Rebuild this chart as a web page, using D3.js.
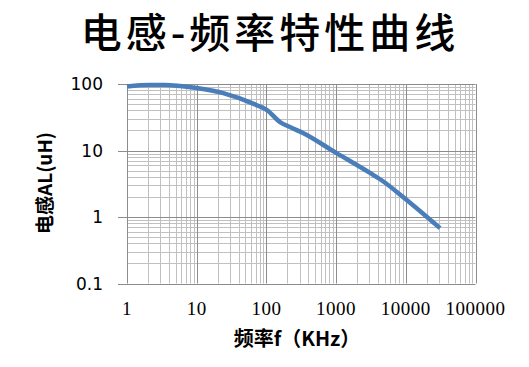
<!DOCTYPE html>
<meta charset="utf-8">
<style>
  body { margin: 0; background: #fff; }
  .title { font-family: "Noto Sans CJK SC", sans-serif; font-weight: 500; font-size: 41px; letter-spacing: 4px; fill: #000; }
  .axisTitle { font-family: "Noto Sans CJK SC", sans-serif; font-weight: bold; font-size: 20px; fill: #000; }
  .xlab { font-family: "Liberation Serif", serif; font-size: 19px; letter-spacing: 0.5px; fill: #000; }
  .ylab { font-family: "DejaVu Sans", sans-serif; font-size: 17px; fill: #000; }
</style>

<svg class="chart" width="529" height="367"></svg>

<script src="https://d3js.org/d3.v7.min.js"></script>

<script>

  // frequency (KHz) and inductance (uH)
  var freq = [1, 2.1, 3.5, 5.8, 10, 24, 73, 102, 157, 218, 335, 1000, 3060, 4710, 9120, 31000];
  var induct = [92, 96.5, 96.5, 93, 87, 73, 48, 40.6, 26.8, 22.5, 18.3, 9.2, 4.6, 3.45, 2.0, 0.68];

  var xTickLabels = ['1', '10', '100', '1000', '10000', '100000'];
  var yTickLabels = ['0.1', '1', '10', '100'];

  var svg = d3.select(".chart");

  var x = d3.scaleLog().domain([1, 1e5]).range([127, 475.5]);
  var y = d3.scaleLog().domain([0.1, 100]).range([283.5, 84]);

  function isMajor(v) { return Math.abs(Math.log10(v) - Math.round(Math.log10(v))) < 1e-9; }
  function px(v) { return Math.round(v) + 0.5; }

  var xt = x.ticks(), yt = y.ticks();

  var grid = svg.append("g");
  // minor grid
  grid.selectAll(".vx").data(xt.filter(function (d) { return !isMajor(d); }))
    .enter().append("line")
      .attr("x1", function (d) { return px(x(d)); }).attr("x2", function (d) { return px(x(d)); })
      .attr("y1", y(100)).attr("y2", y(0.1))
      .attr("stroke", "#c0c0c0").attr("stroke-width", 1);
  grid.selectAll(".hy").data(yt.filter(function (d) { return !isMajor(d); }))
    .enter().append("line")
      .attr("y1", function (d) { return px(y(d)); }).attr("y2", function (d) { return px(y(d)); })
      .attr("x1", x(1)).attr("x2", x(1e5))
      .attr("stroke", "#c0c0c0").attr("stroke-width", 1);
  // major grid
  grid.selectAll(".vxm").data(xt.filter(isMajor))
    .enter().append("line")
      .attr("x1", function (d) { return px(x(d)); }).attr("x2", function (d) { return px(x(d)); })
      .attr("y1", y(100)).attr("y2", y(0.1))
      .attr("stroke", "#8c8c8c").attr("stroke-width", 1);
  grid.selectAll(".hym").data(yt.filter(isMajor))
    .enter().append("line")
      .attr("y1", function (d) { return px(y(d)); }).attr("y2", function (d) { return px(y(d)); })
      .attr("x1", x(1) - 9).attr("x2", x(1e5))
      .attr("stroke", "#8c8c8c").attr("stroke-width", 1);

  // x tick labels
  svg.append("g").selectAll("text").data(xTickLabels)
    .enter().append("text")
      .attr("class", "xlab")
      .attr("x", function (d) { return x(+d); })
      .attr("y", 315)
      .attr("text-anchor", "middle")
      .text(function (d) { return d; });

  // y tick labels
  svg.append("g").selectAll("text").data(yTickLabels)
    .enter().append("text")
      .attr("class", "ylab")
      .attr("x", 103)
      .attr("y", function (d) { return y(+d) + 6; })
      .attr("text-anchor", "end")
      .text(function (d) { return d; });

  // curve
  var line = d3.line()
      .x(function (d, i) { return x(freq[i]); })
      .y(function (d) { return y(d); })
      .curve(d3.curveMonotoneX);

  svg.append("path")
      .datum(induct)
      .attr("fill", "none")
      .attr("stroke", "#4a7ebb")
      .attr("stroke-width", 4.5)
      .attr("stroke-linecap", "butt")
      .attr("d", line);

  // title and axis titles
  svg.append("text").attr("class", "title")
      .attr("x", 270).attr("y", 48)
      .attr("text-anchor", "middle")
      .text("电感-频率特性曲线");

  svg.append("text").attr("class", "axisTitle")
      .attr("x", 297).attr("y", 346)
      .attr("text-anchor", "middle")
      .text("频率f（KHz）");

  svg.append("text").attr("class", "axisTitle")
      .attr("transform", "translate(52,183) rotate(-90)")
      .attr("text-anchor", "middle")
      .style("font-size", "19px")
      .text("电感AL(uH)");

</script>
